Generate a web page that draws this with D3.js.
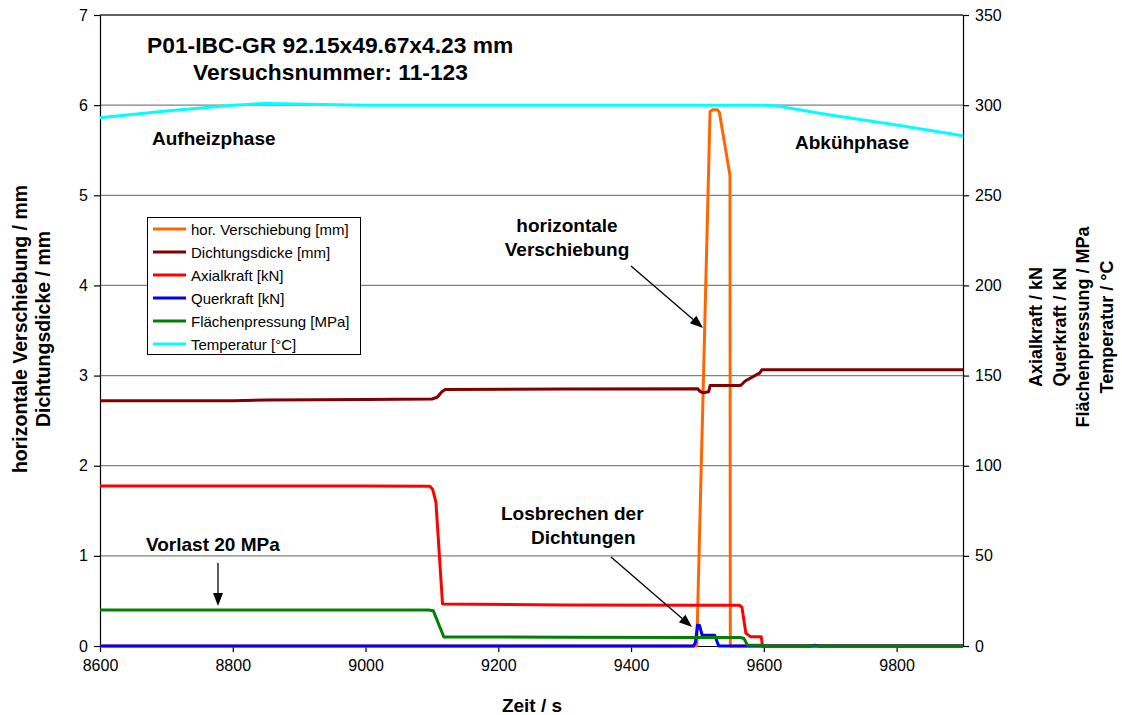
<!DOCTYPE html>
<html>
<head>
<meta charset="utf-8">
<script src="https://cdn.jsdelivr.net/npm/d3@7"></script>
<style>
  html, body { margin: 0; padding: 0; background: #fff; }
  svg { display: block; font-family: "Liberation Sans", Arial, sans-serif; }
</style>
</head>
<body>
<svg id="chart" width="1122" height="715"></svg>
<script>
// Time series of the test run (time in s)
// hor. Verschiebung [mm]
const verschiebungT = [8600, 9499, 9519, 9523, 9530, 9533, 9549, 9549.5, 9900];
const verschiebungV = [0, 0, 5.93, 5.95, 5.95, 5.92, 5.22, 0, 0];

// Dichtungsdicke [mm]
const dickeT = [8600, 8800, 8850, 9000, 9100, 9108, 9115, 9120, 9300, 9500, 9504, 9508, 9517, 9519, 9565, 9572, 9594, 9597, 9900];
const dickeV = [2.72, 2.72, 2.73, 2.735, 2.74, 2.76, 2.82, 2.845, 2.85, 2.855, 2.825, 2.81, 2.82, 2.89, 2.89, 2.94, 3.03, 3.065, 3.065];

// Axialkraft [kN]
const axialT = [8600, 9000, 9097, 9101, 9106, 9116, 9300, 9500, 9563, 9567, 9573, 9580, 9596, 9598, 9900];
const axialV = [88.7, 88.8, 88.6, 87, 80, 23.3, 22.8, 22.6, 22.6, 21.5, 7, 5.2, 5.2, 0, 0];

// Querkraft [kN]
const querT = [8600, 9494, 9497, 9500, 9503, 9507, 9526, 9532, 9670, 9677, 9684, 9900];
const querV = [0, 0, 2, 11.5, 11.5, 6.1, 6, 0, 0, 0.4, 0, 0];

// Flächenpressung [MPa]
const pressT = [8600, 9095, 9102, 9118, 9300, 9500, 9565, 9570, 9575, 9597, 9600, 9900];
const pressV = [20, 20, 19.6, 5, 4.9, 4.75, 4.7, 4.2, 0.6, 0.4, 0, 0];

// Temperatur [°C]
const tempT = [8600, 8700, 8800, 8850, 9000, 9300, 9600, 9620, 9700, 9800, 9900];
const tempV = [293, 296.8, 300, 300.9, 300, 300, 300, 299.5, 294.5, 289, 283];

// Axis ticks
const xTicks = [8600, 8800, 9000, 9200, 9400, 9600, 9800];
const yLeftTicks = [0, 1, 2, 3, 4, 5, 6, 7];
const yRightTicks = [0, 50, 100, 150, 200, 250, 300, 350];

const legendLabels = ["hor. Verschiebung [mm]", "Dichtungsdicke [mm]", "Axialkraft [kN]",
  "Querkraft [kN]", "Flächenpressung [MPa]", "Temperatur [°C]"];
const colors = ["#ff6600", "#800000", "#ff0000", "#0000ff", "#008000", "#00ffff"];

const svg = d3.select("#chart");
const L = 100, R = 963, T = 15, B = 646;

const x = d3.scaleLinear().domain([8600, 9900]).range([L, R]);
const yL = d3.scaleLinear().domain([0, 7]).range([B, T]);
const yR = d3.scaleLinear().domain([0, 350]).range([B, T]);

// Gridlines
svg.append("g").selectAll("line").data(yLeftTicks.filter(d => d > 0)).join("line")
  .attr("x1", L).attr("x2", R)
  .attr("y1", d => yL(d)).attr("y2", d => yL(d))
  .attr("stroke", "#808080").attr("stroke-width", 1.2);

// Axes (drawn beneath the series)
const axisStyle = g => {
  g.selectAll("path, line").attr("stroke", "#000").attr("stroke-width", 1.2);
  g.selectAll("text").attr("font-size", 16).attr("fill", "#000")
    .attr("font-family", "'Liberation Sans', Arial, sans-serif");
};
svg.append("g").attr("transform", `translate(0,${B})`)
  .call(d3.axisBottom(x).tickValues(xTicks).tickSize(6).tickSizeOuter(0).tickPadding(8).tickFormat(d3.format("d")))
  .call(axisStyle);
svg.append("g").attr("transform", `translate(${L},0)`)
  .call(d3.axisLeft(yL).tickValues(yLeftTicks).tickSize(6).tickSizeOuter(0).tickPadding(6).tickFormat(d3.format("d")))
  .call(axisStyle);
svg.append("g").attr("transform", `translate(${R},0)`)
  .call(d3.axisRight(yR).tickValues(yRightTicks).tickSize(6).tickSizeOuter(0).tickPadding(6).tickFormat(d3.format("d")))
  .call(axisStyle);
// top border of plot area
svg.append("line").attr("x1", L).attr("x2", R).attr("y1", T).attr("y2", T)
  .attr("stroke", "#000").attr("stroke-width", 1.2);

// Series
function zip(t, v) { return t.map((d, i) => [d, v[i]]); }
const lineL = d3.line().x(d => x(d[0])).y(d => yL(d[1]));
const lineR = d3.line().x(d => x(d[0])).y(d => yR(d[1]));

const series = [
  { data: zip(verschiebungT, verschiebungV), gen: lineL, color: colors[0] },
  { data: zip(dickeT, dickeV), gen: lineL, color: colors[1] },
  { data: zip(axialT, axialV), gen: lineR, color: colors[2] },
  { data: zip(querT, querV), gen: lineR, color: colors[3] },
  { data: zip(pressT, pressV), gen: lineR, color: colors[4] },
  { data: zip(tempT, tempV), gen: lineR, color: colors[5] }
];

const plotG = svg.append("g");
series.forEach(s => {
  plotG.append("path").attr("d", s.gen(s.data))
    .attr("fill", "none").attr("stroke", s.color)
    .attr("stroke-width", 3).attr("stroke-linejoin", "round");
});

// Axis titles
function bold(xp, yp, txt, size, anchor, rot) {
  const t = svg.append("text").attr("font-weight", "bold").attr("font-size", size)
    .attr("text-anchor", anchor || "start").text(txt);
  if (rot) t.attr("transform", `translate(${xp},${yp}) rotate(-90)`);
  else t.attr("x", xp).attr("y", yp);
  return t;
}
bold(532, 712, "Zeit / s", 19, "middle");
bold(27, 329, "horizontale Verschiebung / mm", 19.5, "middle", true);
bold(50, 329, "Dichtungsdicke / mm", 19.5, "middle", true);
bold(1042, 327, "Axialkraft / kN", 18, "middle", true);
bold(1066, 327, "Querkraft / kN", 18, "middle", true);
bold(1089, 327, "Flächenpressung / MPa", 18, "middle", true);
bold(1113, 327, "Temperatur / °C", 18, "middle", true);

// Titles and annotations
bold(147, 53, "P01-IBC-GR 92.15x49.67x4.23 mm", 22.8);
bold(193, 80, "Versuchsnummer: 11-123", 22.8);
bold(152, 145, "Aufheizphase", 19);
bold(795, 149, "Abkühphase", 19);
bold(567, 232, "horizontale", 19, "middle");
bold(567, 256, "Verschiebung", 19, "middle");
bold(501, 520, "Losbrechen der", 19);
bold(531, 544, "Dichtungen", 19);
bold(146, 551, "Vorlast 20 MPa", 19);

// Arrows
function arrow(x1, y1, x2, y2) {
  const ang = Math.atan2(y2 - y1, x2 - x1);
  const len = 13, w = 5;
  const bx = x2 - len * Math.cos(ang), by = y2 - len * Math.sin(ang);
  svg.append("line").attr("x1", x1).attr("y1", y1).attr("x2", bx).attr("y2", by)
    .attr("stroke", "#000").attr("stroke-width", 1.3);
  const px = -Math.sin(ang) * w, py = Math.cos(ang) * w;
  svg.append("path")
    .attr("d", `M${x2},${y2}L${bx + px},${by + py}L${bx - px},${by - py}Z`)
    .attr("fill", "#000");
}
arrow(631, 266, 703, 328);
arrow(611, 557, 692, 627);
arrow(218, 563, 218, 606);

// Legend
const lg = svg.append("g");
lg.append("rect").attr("x", 147.5).attr("y", 217.5).attr("width", 213).attr("height", 137)
  .attr("fill", "#fff").attr("stroke", "#000").attr("stroke-width", 1);
legendLabels.forEach((lab, i) => {
  const yy = 229 + i * 23;
  lg.append("line").attr("x1", 153).attr("x2", 186).attr("y1", yy).attr("y2", yy)
    .attr("stroke", colors[i]).attr("stroke-width", 3);
  lg.append("text").attr("x", 191).attr("y", yy + 5.5).attr("font-size", 15).text(lab);
});
</script>
</body>
</html>
